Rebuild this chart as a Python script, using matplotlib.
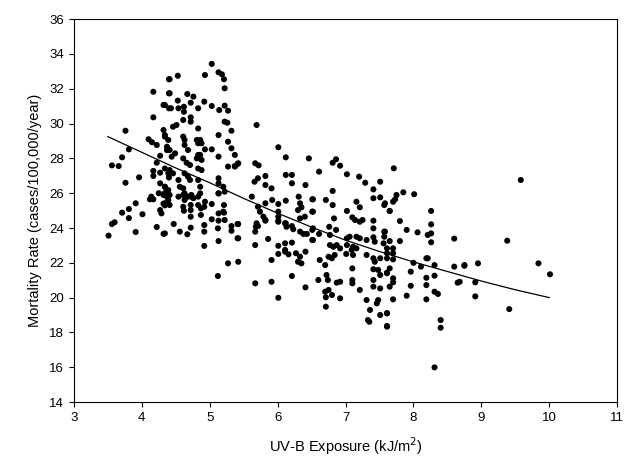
import numpy as np
import matplotlib.pyplot as plt

plt.rcParams['font.family'] = ['Liberation Sans', 'DejaVu Sans']

# UV-B exposure (kJ/m^2) and mortality rate
uvb = [
    4.40, 4.17, 4.40, 4.32, 4.40, 4.17, 3.76, 4.10, 4.15, 4.22, 4.32, 4.34, 4.37, 3.81, 3.71,
    3.56, 3.66, 4.27, 4.22, 4.17, 4.17, 4.27, 4.27, 3.96, 3.76, 4.34, 4.34, 4.14, 4.40,
    3.51, 3.56, 3.60, 3.71, 3.81, 3.81, 3.91, 3.91, 4.01, 4.12, 4.17, 4.22, 4.32, 4.27, 4.29,
    4.32, 4.34, 4.32, 4.34, 4.25,
    5.03, 4.93, 5.13, 5.18, 5.21, 5.22, 4.53, 4.41, 4.41, 4.67, 4.76, 4.53, 4.72, 4.92, 5.03,
    5.22, 5.14, 5.27, 4.34, 4.43, 4.54, 4.62, 4.83, 4.62, 4.61, 4.72, 4.72, 5.22, 5.26,
    4.46, 4.51, 4.83, 5.32, 4.61, 4.63, 4.63, 4.68, 4.81, 4.83, 4.86, 4.88, 5.13, 5.27, 5.32,
    4.34, 4.39, 4.37, 4.41, 4.49, 4.44, 4.93, 5.03, 4.83, 4.86, 4.81, 4.88, 5.13, 4.61, 4.66,
    4.71, 5.27, 5.37, 5.41, 4.83, 4.88, 4.34, 4.41, 4.39, 4.46, 4.63, 4.68, 4.71, 4.54, 4.56,
    4.61, 4.83, 4.86, 5.13, 5.13, 5.20, 5.22, 4.34, 4.39, 4.41, 4.37, 4.63, 4.68, 4.73, 4.83,
    4.86, 5.13,
    4.54, 4.61, 4.63, 4.73, 4.76, 4.39, 4.34, 4.41, 4.61, 4.62, 4.72, 4.72, 4.72, 4.83, 4.87,
    4.87, 4.93, 4.92, 5.03, 5.13, 5.13, 5.13, 5.12, 5.13, 5.21, 5.20, 5.22, 5.21, 5.03, 4.47,
    4.56, 4.67, 4.72, 4.92, 4.92, 4.92, 5.32, 5.32, 5.42, 5.42, 5.27, 5.42, 5.12, 4.34,
    5.69, 6.01, 6.12, 6.46, 5.37, 5.42, 5.37, 5.67, 5.72, 5.66, 5.71, 5.82, 6.12, 6.21, 5.82,
    5.91, 6.21, 6.41, 5.62, 5.71, 5.74, 5.79, 5.82, 5.82, 5.92, 6.01, 6.12, 6.01, 6.01, 6.01,
    6.31, 6.33, 6.35, 6.30, 6.51, 6.51, 6.11, 6.13, 6.21, 6.33, 6.40, 5.41, 5.69, 5.71,
    5.68, 5.67, 5.82, 6.01, 6.12, 6.23, 6.33, 6.38, 6.43, 6.51, 6.51, 5.41, 5.67, 5.86, 6.01,
    6.11, 6.11, 6.21, 6.01, 6.11, 6.16, 6.27, 6.33, 6.35, 6.41, 6.30, 5.91, 5.67, 5.91, 6.21,
    6.41, 6.01,
    6.81, 6.86, 6.92, 6.61, 7.02, 7.20, 7.29, 7.51, 6.81, 7.41, 7.41, 7.51, 6.52, 6.71, 6.81,
    7.16, 7.21, 7.57, 7.65, 6.52, 7.02, 6.83, 7.10, 7.14, 7.21, 7.25, 7.41, 7.41, 7.57, 6.52,
    6.76, 6.86, 6.61, 6.77, 7.02, 7.06, 7.16, 7.21, 7.31, 7.41, 7.43, 7.57, 7.56, 6.52, 6.77,
    6.82, 6.87, 6.92, 7.02, 7.11,
    7.01, 7.09, 7.11, 7.16, 7.31, 7.41, 7.43, 7.51, 7.41, 7.48, 7.51, 7.61, 7.65, 6.62, 6.70,
    6.75, 6.80, 6.84, 7.10, 7.10, 7.10, 6.60, 6.72, 6.74, 6.87, 6.92, 7.41, 7.41, 7.51, 7.21,
    6.70, 6.75, 6.80, 6.71, 6.92, 6.71, 7.31, 7.48, 7.46, 7.36, 7.33, 7.35, 7.51, 7.61, 7.61,
    7.71, 7.75, 7.85, 8.01, 7.73, 7.70, 7.65, 7.58, 8.26, 7.80, 8.26, 7.90, 8.06, 8.21, 8.26,
    8.26, 7.58, 7.65, 7.80, 8.60, 7.61, 7.70, 8.21,
    7.61, 7.70, 7.61, 7.70, 8.19, 8.00, 8.11, 8.31, 8.60, 8.75, 7.61, 7.96, 8.19, 8.31, 7.70,
    7.70, 7.65, 7.96, 8.19, 8.65, 8.31, 8.36, 7.90, 7.70, 8.19, 7.61, 7.61, 8.40, 8.40, 8.31,
    9.38, 8.75, 8.95, 8.91, 8.91, 9.41, 9.84, 10.01, 8.68, 9.58,
]
mortality = [
    32.55, 31.83, 31.74, 31.07, 30.88, 30.36, 29.59, 29.10, 28.93, 28.77, 29.63, 29.25, 28.48,
    28.52, 28.06, 27.60, 27.56, 28.15, 27.75, 27.28, 26.99, 27.18, 26.57, 26.91, 26.60, 26.37,
    25.99, 25.80, 26.90,
    23.56, 24.23, 24.33, 24.88, 25.09, 24.57, 25.42, 23.77, 24.79, 25.65, 25.65, 24.06, 23.66,
    25.03, 24.84, 25.90, 26.00, 25.40, 25.30, 26.00,
    33.43, 32.79, 32.95, 32.83, 32.55, 32.03, 32.75, 32.55, 31.74, 31.70, 31.55, 31.32, 31.20,
    31.26, 31.01, 31.03, 30.78, 30.74, 31.07, 30.88, 30.88, 30.97, 30.88, 30.68, 30.21, 30.36,
    30.11, 30.11, 30.05, 29.82, 29.92, 29.72, 29.59, 29.25, 29.06, 28.77, 28.48, 29.06, 28.87,
    29.06, 28.87, 29.34, 28.96, 28.58, 29.34, 29.06, 28.67, 28.48, 28.29, 28.10, 28.52, 28.52,
    28.20, 28.20, 28.00, 27.91, 28.10, 28.00, 27.75, 27.62, 27.53, 27.56, 27.68, 27.42, 27.33,
    27.42, 27.33, 27.14, 27.14, 27.14, 26.95, 26.76, 26.76, 26.37, 26.28, 26.76, 26.37, 26.86,
    26.57, 26.37, 26.09, 26.37, 26.18, 25.90, 25.80, 25.99, 25.80, 25.80, 25.80, 25.99, 25.99,
    25.80, 25.90, 25.61, 25.90, 25.71, 25.61, 25.42, 25.32, 25.22, 24.99, 25.32, 25.03, 24.65,
    25.32, 25.13, 24.75, 25.51, 25.22, 25.38, 25.99, 24.84, 24.42, 21.24, 23.25, 25.32, 24.94,
    24.46, 24.88, 24.50, 24.23, 23.79, 23.64, 24.02, 24.17, 23.79, 22.97, 24.11, 23.84, 24.23,
    23.41, 21.97, 22.06, 23.98, 23.69,
    29.92, 28.64, 28.06, 28.00, 28.20, 27.72, 27.53, 27.72, 27.60, 26.66, 26.86, 26.99, 27.05,
    27.05, 26.47, 26.28, 26.57, 26.47, 25.80, 25.22, 24.94, 24.65, 24.46, 25.42, 25.61, 25.38,
    25.57, 24.94, 24.65, 24.42, 25.80, 25.42, 25.19, 25.03, 25.65, 24.94, 24.27, 24.07, 24.11,
    24.55, 24.65, 24.23, 24.27, 24.11,
    24.07, 23.79, 24.42, 24.36, 24.27, 23.93, 23.79, 23.66, 23.66, 23.89, 23.31, 23.41, 23.02,
    23.37, 22.98, 23.12, 22.74, 23.16, 22.51, 22.64, 22.49, 22.55, 22.35, 21.97, 22.64, 22.06,
    22.16, 20.82, 20.91, 21.24, 20.59, 19.99,
    27.75, 27.95, 27.58, 27.24, 27.09, 26.95, 26.60, 26.66, 26.13, 26.22, 25.71, 25.76, 25.65,
    25.61, 25.32, 25.51, 25.19, 25.32, 24.98, 24.94, 24.98, 24.55, 24.61, 24.46, 24.36, 24.46,
    24.42, 23.98, 23.79, 23.98, 24.07, 23.89, 23.66, 23.60, 23.41, 23.50, 23.50, 23.41, 23.31,
    23.47, 23.21, 23.50, 23.12, 23.31, 23.02, 22.92, 23.02, 22.83, 23.02, 22.92,
    22.51, 22.74, 22.45, 22.83, 22.45, 22.26, 22.06, 22.26, 21.63, 21.59, 21.30, 21.40, 21.68,
    22.16, 21.87, 22.35, 22.26, 22.45, 21.68, 21.01, 20.82, 21.01, 21.30, 21.01, 20.86, 20.91,
    21.01, 20.63, 20.53, 20.44, 20.34, 20.44, 20.15, 20.02, 19.96, 19.48, 19.86, 19.86, 19.67,
    19.29, 18.71, 18.61, 19.00, 19.10, 18.37,
    27.43, 25.90, 26.05, 25.94, 25.65, 25.51, 24.98, 25.42, 24.98, 24.40, 24.21, 23.89, 23.75,
    23.60, 23.69, 23.18, 23.79, 23.25, 23.25, 23.39, 22.83, 22.83, 22.26,
    22.55, 22.55, 22.26, 22.20, 22.26, 22.00, 21.78, 21.87, 21.78, 21.87, 21.43, 21.49, 21.14,
    21.26, 21.11, 20.88, 20.63, 20.68, 20.72, 20.86, 20.34, 20.21, 20.11, 19.90, 19.90, 19.10,
    18.33, 18.71, 18.27, 15.99,
    23.27, 21.83, 21.97, 20.88, 20.07, 19.34, 21.97, 21.34, 20.91, 26.76,
]

# fitted trend line
fit_x = [3.5, 4.0, 4.5, 5.0, 5.5, 6.0, 6.5, 7.0, 7.5, 8.0, 8.5, 9.0, 9.5, 10.0]
fit_y = [29.25, 28.35, 27.45, 26.6, 25.7, 24.85, 24.05, 23.3, 22.65, 22.05, 21.5, 20.95, 20.45, 20.0]

n = min(len(uvb), len(mortality))

fig = plt.figure(figsize=(6.26, 4.68), dpi=100)
ax = fig.add_axes([0.118, 0.141, 0.868, 0.818])

ax.scatter(uvb[:n], mortality[:n], s=19, color='black', edgecolors='none', zorder=3)
ax.plot(fit_x, fit_y, color='black', linewidth=0.9, zorder=4)

ax.set_xlim(3, 11)
ax.set_ylim(14, 36)
ax.set_xticks(range(3, 12))
ax.set_yticks(range(14, 37, 2))
ax.tick_params(direction='out', length=3.5, width=0.8, labelsize=9.5, colors='black')

for sp in ax.spines.values():
    sp.set_linewidth(0.8)

ax.set_xlabel('UV-B Exposure (kJ/m$^2$)', fontsize=10.5, labelpad=8)
ax.set_ylabel('Mortality Rate (cases/100,000/year)', fontsize=10.5, labelpad=5)

fig.savefig('out.png', dpi=100)
